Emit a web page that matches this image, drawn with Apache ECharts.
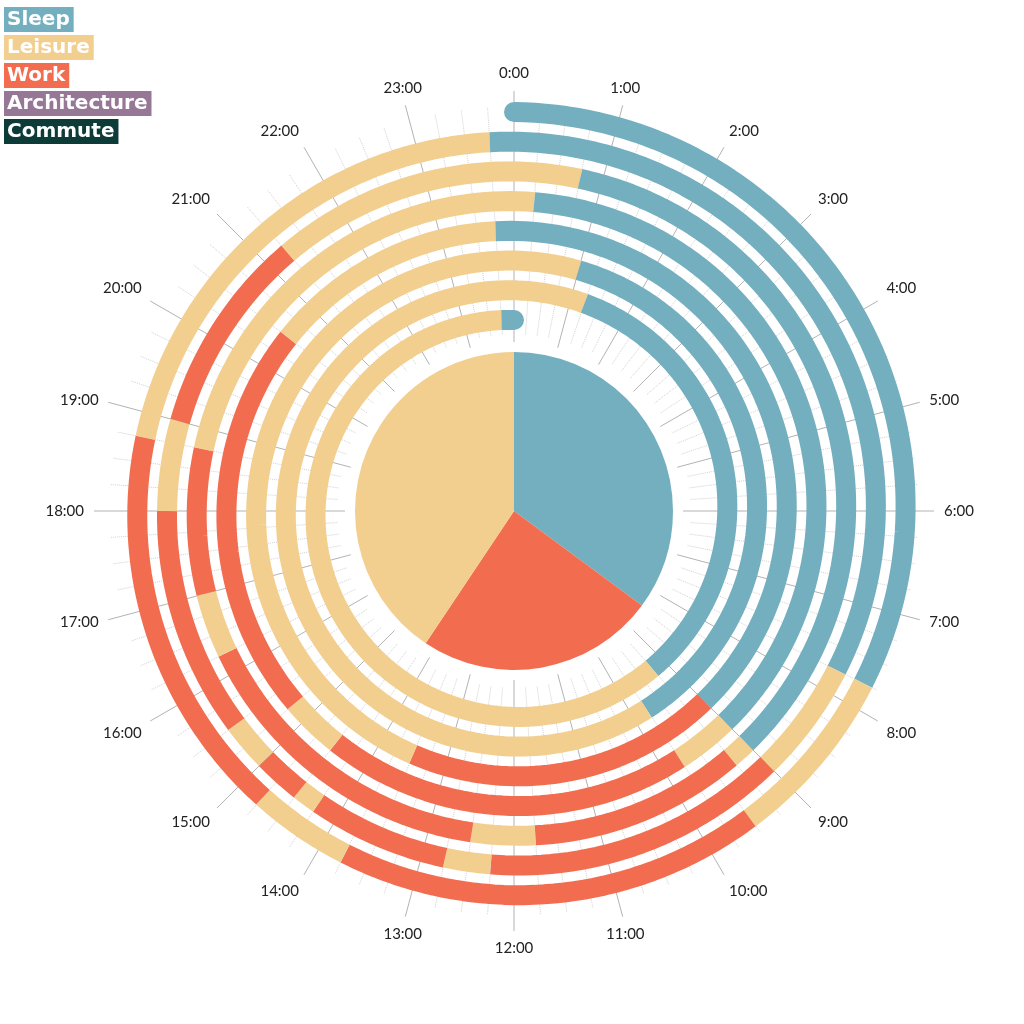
<!DOCTYPE html>
<html lang="en">
<head>
<meta charset="UTF-8">
<meta name="viewport" content="width=device-width, initial-scale=1.0">
<title>A week in hours</title>
<script src="https://cdn.jsdelivr.net/npm/echarts@6/dist/echarts.min.js"></script>
<style>
    html, body { margin: 0; padding: 0; background: #fff; }
    #chart { width: 1024px; height: 1024px; }
</style>
</head>
<body>
<div id="chart"></div>
<script>
// legend order and colours
const activities = ['Sleep', 'Leisure', 'Work', 'Architecture', 'Commute'];
const activityColors = ['#74afc0', '#f2cf8f', '#f26d50', '#967896', '#0d3b37'];
// pie goes clockwise from midnight in this order
const pieOrder = ['Sleep', 'Work', 'Leisure', 'Architecture', 'Commute'];

const hourLabels = ['0:00', '1:00', '2:00', '3:00', '4:00', '5:00', '6:00', '7:00',
    '8:00', '9:00', '10:00', '11:00', '12:00', '13:00', '14:00', '15:00',
    '16:00', '17:00', '18:00', '19:00', '20:00', '21:00', '22:00', '23:00'];

// hour (counted from the first midnight) at which each block starts
const blockStart = [0, 7.75, 9.5, 13.75, 14.75, 18.75, 23.75,
    31.75, 33, 36.25, 36.75, 38.25, 38.5, 39, 39.5, 42, 43, 45.25,
    48.75, 57, 57.25, 59.75, 60.5, 64.25, 65, 66.75,
    72.25, 81, 81.75, 86.5, 87.25, 92.5,
    95.75, 105, 109.5,
    121, 129.75,
    145.25, 153.25, 167.75];
const blockActivity = ['Sleep', 'Leisure', 'Work', 'Leisure', 'Work', 'Leisure', 'Sleep',
    'Leisure', 'Work', 'Leisure', 'Work', 'Leisure', 'Work', 'Leisure', 'Work', 'Leisure', 'Work', 'Leisure',
    'Sleep', 'Leisure', 'Work', 'Leisure', 'Work', 'Leisure', 'Work', 'Leisure',
    'Sleep', 'Leisure', 'Work', 'Leisure', 'Work', 'Leisure',
    'Sleep', 'Work', 'Leisure',
    'Sleep', 'Leisure',
    'Sleep', 'Leisure', 'Sleep'];
const weekHours = 168;
const days = 7;

const CENTER = [514, 511];
const BAND = 20;

// blocks as [start, end, activity index]
const blocks = blockStart.map(function (s, i) {
    const e = i < blockStart.length - 1 ? blockStart[i + 1] : weekHours;
    return [s, e, activities.indexOf(blockActivity[i])];
});

// hours per activity for the centre pie
const totals = {};
activities.forEach(function (a) { totals[a] = 0; });
blocks.forEach(function (b) { totals[activities[b[2]]] += b[1] - b[0]; });

function spiralPoint(api, t) {
    // radius axis counts days, angle axis counts hour of day
    return api.coord([t / 24, t - 24 * Math.floor(t / 24)]);
}

function renderBlock(params, api) {
    const t0 = api.value(0);
    const t1 = api.value(1);
    const color = activityColors[api.value(2)];
    const pts = [];
    for (let t = t0; t < t1 - 0.001; t += 0.1) {
        pts.push(spiralPoint(api, t));
    }
    pts.push(spiralPoint(api, t1));
    const children = [{
        type: 'polyline',
        shape: { points: pts },
        style: { stroke: color, lineWidth: BAND, fill: null, lineCap: 'butt', lineJoin: 'round' }
    }];
    // rounded ends of the whole spiral
    if (params.dataIndex === 0) {
        children.push({ type: 'circle', shape: { cx: pts[0][0], cy: pts[0][1], r: BAND / 2 }, style: { fill: color } });
    }
    if (params.dataIndex === blocks.length - 1) {
        const p = pts[pts.length - 1];
        children.push({ type: 'circle', shape: { cx: p[0], cy: p[1], r: BAND / 2 }, style: { fill: color } });
    }
    return { type: 'group', children: children };
}

const hiddenAngle = {
    type: 'value', min: 0, max: 24, interval: 1, startAngle: 90, clockwise: true,
    axisLine: { show: false }, axisTick: { show: false }, axisLabel: { show: false }, splitLine: { show: false }
};

const chart = echarts.init(document.getElementById('chart'));
chart.setOption({
    backgroundColor: '#fff',
    animation: false,
    legend: {
        orient: 'vertical',
        left: -6,
        top: 2,
        itemWidth: 0,
        itemHeight: 0,
        itemGap: 3,
        selectedMode: false,
        data: activities.map(function (name, i) {
            return {
                name: name,
                icon: 'rect',
                textStyle: {
                    color: '#fff',
                    backgroundColor: activityColors[i],
                    fontFamily: 'DejaVu Sans',
                    fontWeight: 'bold',
                    fontSize: 20,
                    lineHeight: 22,
                    padding: [2, 4, 1, 3]
                }
            };
        })
    },
    polar: [
        { center: CENTER, radius: [169, 420] },   // hour lines + labels
        { center: CENTER, radius: [176, 404] },   // quarter-hour dotted lines
        { center: CENTER, radius: [191, 399] }    // the spiral
    ],
    angleAxis: [
        {
            polarIndex: 0, type: 'value', min: 0, max: 24, interval: 1, startAngle: 90, clockwise: true,
            axisLine: { show: false },
            axisTick: { show: false },
            axisLabel: {
                margin: 10,
                color: '#222',
                fontFamily: 'Lato',
                fontSize: 15,
                formatter: function (v) { return v >= 24 ? '' : hourLabels[v]; }
            },
            splitLine: { show: true, lineStyle: { color: '#b3b3b3', width: 1 } }
        },
        Object.assign({}, hiddenAngle, {
            polarIndex: 1,
            minorTick: { show: false, splitNumber: 4 },
            minorSplitLine: { show: true, lineStyle: { color: '#d2d2d2', width: 1, type: 'dotted' } }
        }),
        Object.assign({}, hiddenAngle, { polarIndex: 2 })
    ],
    radiusAxis: [
        { polarIndex: 0, type: 'value', min: 0, max: 1, show: false },
        { polarIndex: 1, type: 'value', min: 0, max: 1, show: false },
        { polarIndex: 2, type: 'value', min: 0, max: days, inverse: true, show: false }
    ],
    series: [
        {
            type: 'custom',
            coordinateSystem: 'polar',
            polarIndex: 2,
            silent: true,
            renderItem: renderBlock,
            data: blocks
        },
        {
            type: 'pie',
            center: CENTER,
            radius: [0, 159],
            startAngle: 90,
            clockwise: true,
            silent: true,
            label: { show: false },
            labelLine: { show: false },
            data: pieOrder.map(function (name) {
                return {
                    name: name,
                    value: totals[name],
                    itemStyle: { color: activityColors[activities.indexOf(name)] }
                };
            })
        }
    ]
});
</script>
</body>
</html>
